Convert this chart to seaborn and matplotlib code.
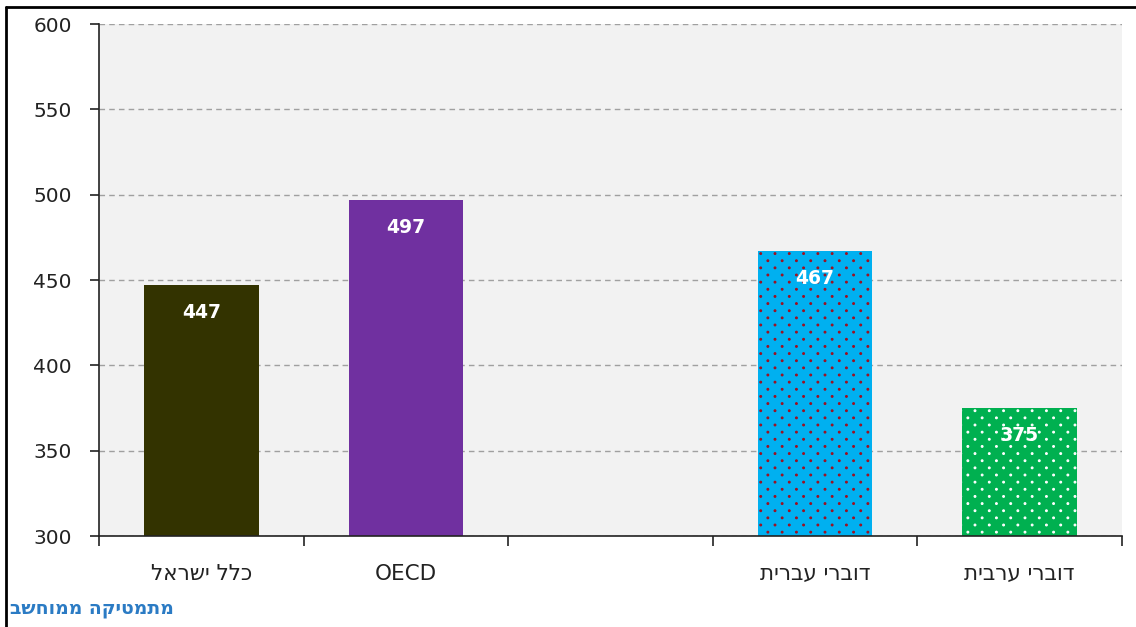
import matplotlib
matplotlib.use("Agg")
import matplotlib.pyplot as plt
import matplotlib.hatch as mhatch
from matplotlib.path import Path
from matplotlib.lines import Line2D
import seaborn as sns
import pandas as pd

# data
categories = ["כלל ישראל", "OECD", "", "דוברי עברית", "דוברי ערבית"]
scores = [447, 497, None, 467, 375]
bar_colors = ["#333300", "#7030a0", "#f2f2f2", "#00b0f0", "#00b050"]
hatch_colors = [None, None, None, "#a01020", "#ffffff"]
yticks = [300, 350, 400, 450, 500, 550, 600]
source_label = "מתמטיקה ממוחשב"


def rtl(s):
    # matplotlib has no bidi support, so put Hebrew in visual order
    if any("\u0590" <= ch <= "\u05ff" for ch in s):
        return s[::-1]
    return s


# staggered dot texture like the Excel "dotted" fill (replaces the '.' hatch)
class DotGrid(mhatch.HatchPatternBase):
    def __init__(self, hatch, density):
        self.cols = 7 * hatch.count('.')
        self.rows = 2 * self.cols
        circle = Path.unit_circle()
        self.shape_vertices = circle.vertices
        self.shape_codes = circle.codes
        self.num_vertices = self.rows * self.cols * len(self.shape_vertices)

    def set_vertices_and_codes(self, vertices, codes):
        step = 1.0 / self.cols
        r = 0.009
        nv = len(self.shape_vertices)
        k = 0
        for row in range(self.rows):
            y = (row + 0.5) / self.rows
            shift = 0.5 * step if row % 2 else 0.0
            for col in range(self.cols):
                x = (col + 0.25) * step + shift
                vertices[k:k + nv] = self.shape_vertices * r + [x, y]
                codes[k:k + nv] = self.shape_codes
                k += nv


mhatch._hatch_types = [DotGrid if h is mhatch.SmallFilledCircles else h
                       for h in mhatch._hatch_types]

sns.set_style("white")
plt.rcParams["font.family"] = ["DejaVu Sans"]
plt.rcParams["hatch.linewidth"] = 0.8

df = pd.DataFrame({"cat": [str(i) for i in range(len(categories))], "score": scores})

fig = plt.figure(figsize=(11.36, 6.27), dpi=100)
ax = fig.add_axes([99 / 1136, 1 - 536 / 627, (1122 - 99) / 1136, (536 - 24) / 627])
ax.set_facecolor("#f2f2f2")

sns.barplot(data=df, x="cat", y="score", hue="cat", palette=bar_colors,
            width=0.56, legend=False, ax=ax, saturation=1)

# hatch by bar position (the empty category has no patch)
for patch in ax.patches:
    idx = int(round(patch.get_x() + patch.get_width() / 2))
    patch.set_linewidth(0)
    if hatch_colors[idx] is not None:
        patch.set_hatch(".")
        patch.set_edgecolor(hatch_colors[idx])

ax.set_ylim(300, 600)
ax.set_xlim(-0.5, len(categories) - 0.5)
ax.set_yticks(yticks)
ax.set_yticklabels([str(v) for v in yticks], fontsize=14.5, color="#222222")
ax.yaxis.grid(True, linestyle=(0, (4, 3)), color="#a0a0a0", linewidth=1)
ax.set_axisbelow(True)

# category labels centered, ticks at boundaries
ax.set_xticks(range(len(categories)))
ax.set_xticklabels([rtl(c) for c in categories], fontsize=15.5, color="#222222")
ax.set_xticks([i - 0.5 for i in range(len(categories) + 1)], minor=True)
ax.tick_params(axis="x", which="major", bottom=False, length=0, pad=20)
ax.tick_params(axis="x", which="minor", bottom=True, length=7, width=1.2,
               color="#222222", direction="out")
ax.tick_params(axis="y", left=True, length=6.5, width=1.2, color="#222222",
               direction="out", pad=13)
ax.set_xlabel("")
ax.set_ylabel("")

for side in ["top", "right"]:
    ax.spines[side].set_visible(False)
for side in ["left", "bottom"]:
    ax.spines[side].set_color("#222222")
    ax.spines[side].set_linewidth(1.2)

for i, v in enumerate(scores):
    if v is None:
        continue
    ax.annotate(str(v), (i, v), xytext=(0, -20), textcoords="offset points",
                ha="center", va="center", color="white", fontsize=13.5, fontweight="bold")

fig.text(10 / 1136, 1 - 609 / 627, rtl(source_label), fontsize=13.5, fontweight="bold",
         color="#2b7bc4", ha="left", va="center")

# frame of the original picture (only top and left edges visible)
fig.add_artist(Line2D([6 / 1136, 1], [1 - 7 / 627, 1 - 7 / 627], transform=fig.transFigure,
                      color="black", linewidth=2))
fig.add_artist(Line2D([6 / 1136, 6 / 1136], [0, 1 - 7 / 627], transform=fig.transFigure,
                      color="black", linewidth=2))

fig.savefig("out.png", dpi=100, facecolor="white")
